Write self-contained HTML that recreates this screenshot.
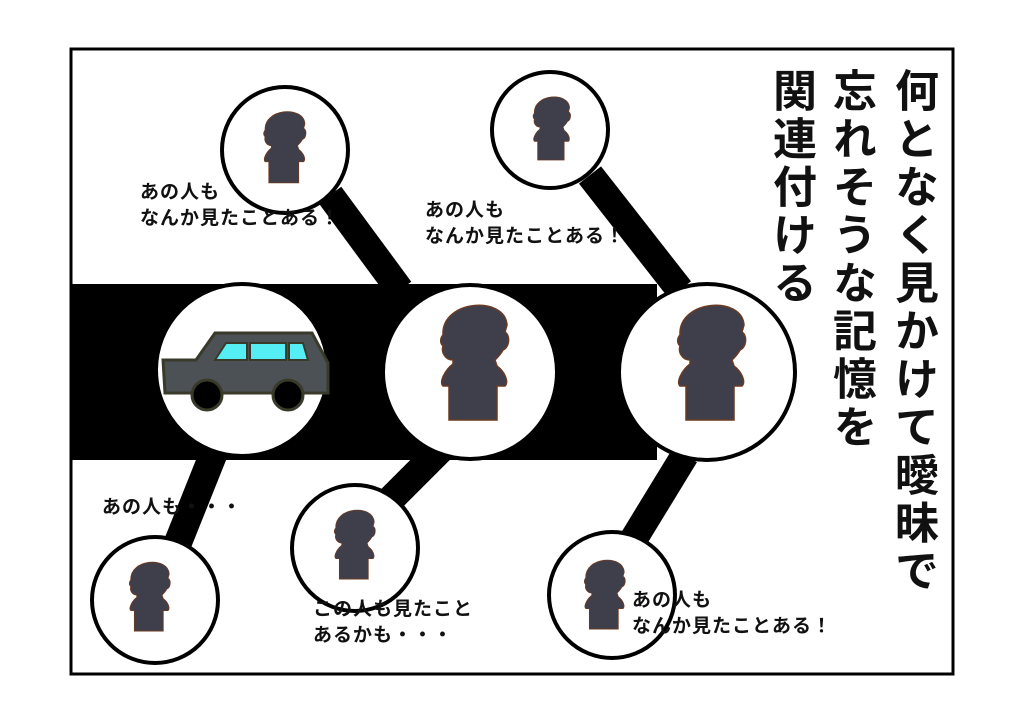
<!DOCTYPE html>
<html><head><meta charset="utf-8"><style>
body{margin:0;width:1024px;height:724px;background:#fff;overflow:hidden;position:relative;font-family:"Liberation Sans","Noto Sans CJK JP",sans-serif}
.v{position:absolute;writing-mode:vertical-rl;font-size:44px;font-weight:bold;color:#111;line-height:1;letter-spacing:4px}
.l{position:absolute;font-size:19px;font-weight:bold;color:#111;line-height:26px;white-space:nowrap;letter-spacing:1px}
</style></head><body>
<svg width="1024" height="724" style="position:absolute;left:0;top:0">
<defs>
<g id="p"><path d="M-32,-45 C-34,-80 30,-85 32,-55 L30,-48 C36,-44 34,-32 28,-30 C26,-26 22,-22 20,-20 L22,-14 C30,-8 34,2 30,6 L22,6 L22,40 L-26,40 L-26,6 L-32,6 C-36,2 -30,-10 -22,-16 L-22,-20 C-30,-20 -34,-28 -32,-34 C-36,-38 -34,-43 -32,-45Z" fill="#3f3f4c" stroke="#6a3a22" stroke-width="1.5"/></g>
</defs>
<rect x="71" y="49" width="882" height="625" fill="#fff" stroke="#000" stroke-width="3"/>
<rect x="72" y="284" width="585" height="176" fill="#000"/>
<g stroke="#000" stroke-width="28">
<line x1="330" y1="195" x2="400" y2="290"/>
<line x1="590" y1="175" x2="680" y2="290"/>
<line x1="215" y1="450" x2="175" y2="550"/>
<line x1="440" y1="450" x2="385" y2="505"/>
<line x1="685" y1="455" x2="630" y2="545"/>
</g>
<g fill="#fff" stroke="#000" stroke-width="4">
<circle cx="242" cy="370" r="86"/>
<circle cx="470" cy="372" r="87"/>
<circle cx="707" cy="372" r="88"/>
<circle cx="285" cy="150" r="63"/>
<circle cx="550" cy="130" r="58"/>
<circle cx="155" cy="600" r="63"/>
<circle cx="355" cy="548" r="63"/>
<circle cx="612" cy="595" r="63"/>
</g>
<g stroke="#3a3a2a" stroke-width="3">
<path d="M163,360 L196,360 L215,333 L312,333 L328,363 L328,393 L165,393Z" fill="#4c5156"/>
<path d="M215,360 L226,343 L247,343 L247,360Z M250,343 L286,343 L286,360 L250,360Z M289,343 L303,343 L308,360 L289,360Z" fill="#55eef5" stroke-width="2"/>
<circle cx="207" cy="395" r="15" fill="#000"/>
<circle cx="288" cy="395" r="15" fill="#000"/>
</g>
<use href="#p" transform="translate(475,380) scale(1.0)"/>
<use href="#p" transform="translate(712,380) scale(1.0)"/>
<use href="#p" transform="translate(285,158) scale(0.62)"/>
<use href="#p" transform="translate(552,138) scale(0.55)"/>
<use href="#p" transform="translate(150,607) scale(0.6)"/>
<use href="#p" transform="translate(355,555) scale(0.6)"/>
<use href="#p" transform="translate(605,605) scale(0.6)"/>
</svg>
<div class="v" style="left:890px;top:68px">何となく見かけて曖昧で</div>
<div class="v" style="left:828px;top:68px">忘れそうな記憶を</div>
<div class="v" style="left:768px;top:68px">関連付ける</div>
<div class="l" style="left:140px;top:180px">あの人も<br>なんか見たことある！</div>
<div class="l" style="left:425px;top:198px">あの人も<br>なんか見たことある！</div>
<div class="l" style="left:102px;top:495px">あの人も・・・</div>
<div class="l" style="left:313px;top:597px">この人も見たこと<br>あるかも・・・</div>
<div class="l" style="left:632px;top:588px">あの人も<br>なんか見たことある！</div>
</body></html>
